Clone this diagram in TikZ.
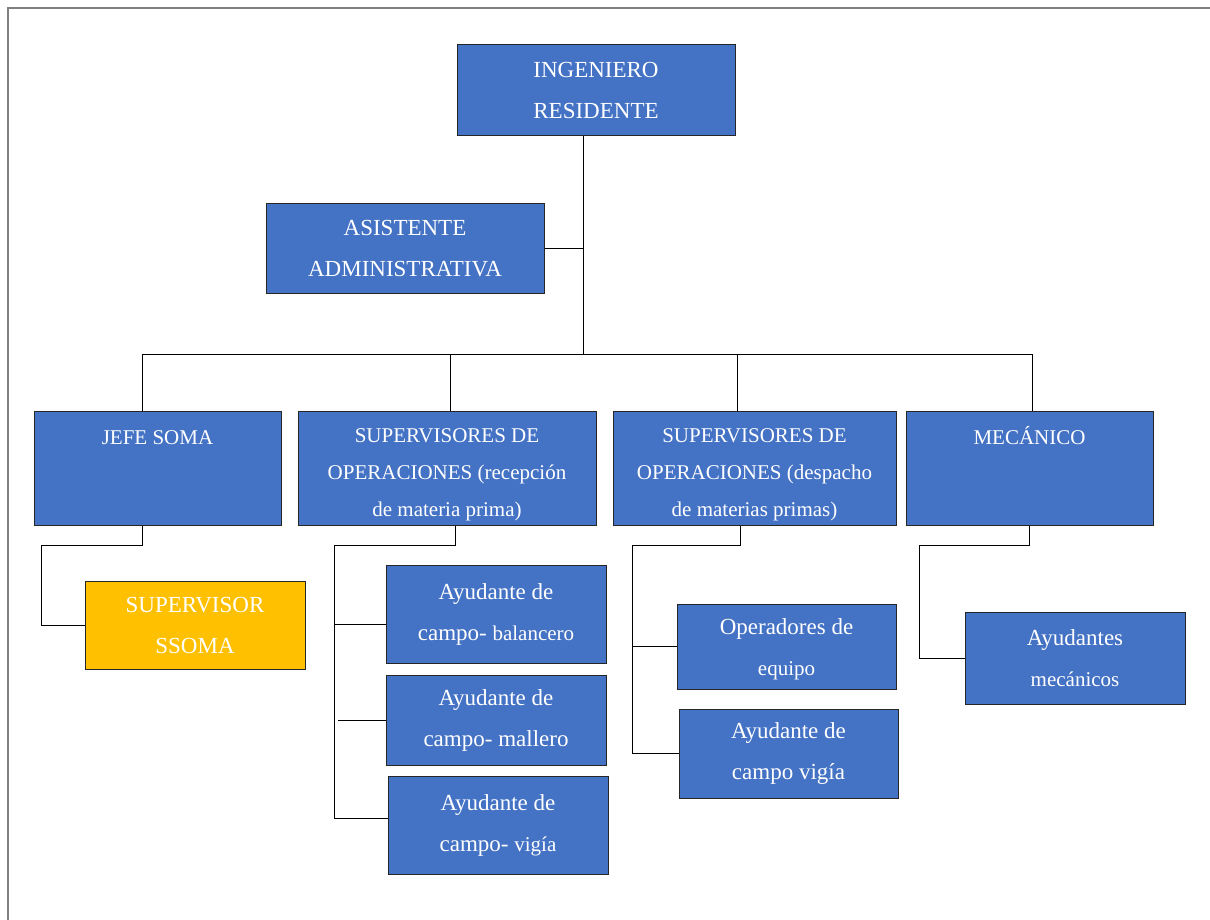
\documentclass[tikz,border=0pt]{standalone}
\usepackage{fontspec}
\setmainfont{Liberation Serif}
\definecolor{boxblue}{HTML}{4472C4}
\definecolor{ssomayellow}{HTML}{FFC000}
\tikzset{
  box/.style={draw=black!85, line width=1pt, fill=boxblue, text=white, align=center,
    inner sep=0pt, font=\fontsize{23}{41}\selectfont},
  headbox/.style={box, font=\fontsize{21}{37}\selectfont},
  ssomabox/.style={box, fill=ssomayellow},
  link/.style={draw=black, line width=0.9pt},
  frameline/.style={draw=black!50, line width=1.5pt}
}
\newcommand{\smalltxt}[1]{{\fontsize{21}{41}\selectfont #1}}
\newcommand{\topgap}{\rule{0pt}{27pt}}

\begin{document}
\begin{tikzpicture}[x=1pt,y=-1pt]
  \useasboundingbox (0,0) rectangle (1210,920);
  \draw[frameline] (8,920) -- (8,8) -- (1210,8);

  % top level
  \node[box, minimum width=278pt, minimum height=91pt] (ing) at (596,90.5) {INGENIERO\\RESIDENTE};
  \node[box, minimum width=278pt, minimum height=89pt] (asis) at (405,248.5) {ASISTENTE\\ADMINISTRATIVA};

  % second level
  \node[headbox, minimum width=247pt, minimum height=114pt] (jefe) at (157.5,468) {\topgap JEFE SOMA\\~\\~};
  \node[headbox, minimum width=298pt, minimum height=114pt] (rec) at (447,468) {\topgap SUPERVISORES DE\\OPERACIONES (recepción\\de materia prima)};
  \node[headbox, minimum width=283pt, minimum height=114pt] (desp) at (754.5,468) {\topgap SUPERVISORES DE\\OPERACIONES (despacho\\de materias primas)};
  \node[headbox, minimum width=247pt, minimum height=114pt] (mec) at (1029.5,468) {\topgap MECÁNICO\\~\\~};

  % third level
  \node[ssomabox, minimum width=220pt, minimum height=88pt] (ssoma) at (195,625) {SUPERVISOR\\SSOMA};
  \node[box, minimum width=220pt, minimum height=98pt] (bal) at (496,614) {Ayudante de\\campo- \smalltxt{balancero}};
  \node[box, minimum width=220pt, minimum height=90pt] (mal) at (496,720) {Ayudante de\\campo- mallero};
  \node[box, minimum width=220pt, minimum height=98pt] (vig) at (498,825) {Ayudante de\\campo- \smalltxt{vigía}};
  \node[box, minimum width=219pt, minimum height=85pt] (oper) at (786.5,646.5) {\rule{0pt}{21pt}Operadores de\\\smalltxt{equipo}};
  \node[box, minimum width=219pt, minimum height=89pt] (avig) at (788.5,753.5) {Ayudante de\\campo vigía};
  \node[box, minimum width=220pt, minimum height=92pt] (ayme) at (1075,658) {Ayudantes\\\smalltxt{mecánicos}};

  % trunk and bar
  \coordinate (trunk) at (583,354);
  \coordinate (barL) at (142,354);
  \coordinate (barR) at (1032,354);
  \draw[link] (ing.south -| trunk) -- (trunk);
  \draw[link] (asis.east) -- (asis.east -| trunk);
  \draw[link] (barL) -- (barR);
  \foreach \x/\n in {142/jefe, 450/rec, 737/desp, 1032/mec}
    \draw[link] (\x,354) -- (\n.north -| \x,0);

  % branches
  \draw[link] (142,0 |- jefe.south) -- (142,545) -- (41,545) |- (ssoma.west);
  \draw[link] (455,0 |- rec.south) -- (455,545) -- (334,545) -- (334,818);
  \draw[link] (334,624) -- (bal.west |- 0,624);
  \draw[link] (338,0 |- mal.west) -- (mal.west);
  \draw[link] (334,818) -- (vig.west |- 0,818);
  \draw[link] (740,0 |- desp.south) -- (740,545) -- (632,545) |- (avig.west);
  \draw[link] (632,0 |- oper.west) -- (oper.west);
  \draw[link] (1029,0 |- mec.south) -- (1029,545) -- (919,545) |- (ayme.west);
\end{tikzpicture}
\end{document}
